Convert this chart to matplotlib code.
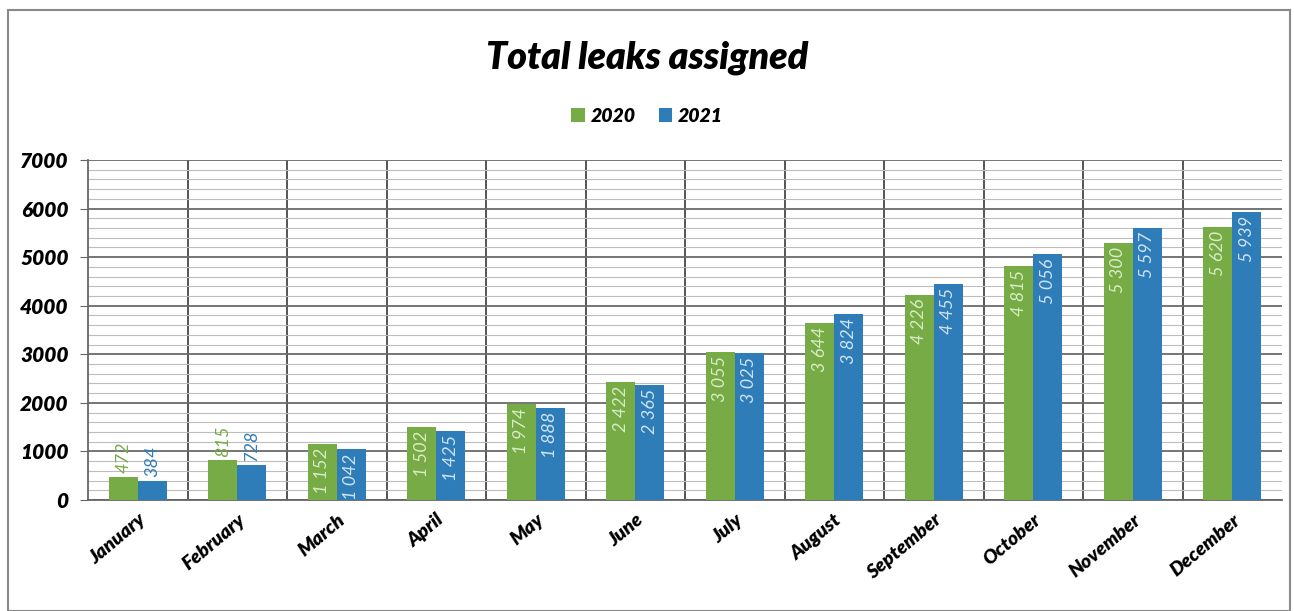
import matplotlib.pyplot as plt
import numpy as np
from matplotlib.patches import Rectangle
from matplotlib.ticker import MultipleLocator

months = ["January", "February", "March", "April", "May", "June", "July",
          "August", "September", "October", "November", "December"]
leaks_2020 = [472, 815, 1152, 1502, 1974, 2422, 3055, 3644, 4226, 4815, 5300, 5620]
leaks_2021 = [384, 728, 1042, 1425, 1888, 2365, 3025, 3824, 4455, 5056, 5597, 5939]
series_names = ["2020", "2021"]

GREEN = "#76ab45"
BLUE = "#2f7db8"
GREEN_TXT = "#d9ecc4"
BLUE_TXT = "#cfe3f3"

plt.rcParams['font.family'] = ['Lato', 'DejaVu Sans']

fig = plt.figure(figsize=(12.94, 6.11), dpi=100)
ax = fig.add_axes([88 / 1294, 111 / 611, 1194 / 1294, 340 / 611])

x = np.arange(len(months))
w = 0.29
bars20 = ax.bar(x - w / 2, leaks_2020, w, color=GREEN, label=series_names[0], zorder=3)
bars21 = ax.bar(x + w / 2, leaks_2021, w, color=BLUE, label=series_names[1], zorder=3)


def fmt(v):
    return f"{v:,}".replace(",", " ")


def put_labels(bars, vals, inside_color, outside_color):
    for b, v in zip(bars, vals):
        cx = b.get_x() + b.get_width() / 2
        if v < 1000:
            ax.text(cx, v + 80, fmt(v), rotation=90, ha="center", va="bottom",
                    fontsize=13, fontstyle="italic", color=outside_color, zorder=4)
        else:
            ax.text(cx, v - 80, fmt(v), rotation=90, ha="center", va="top",
                    fontsize=13, fontstyle="italic", color=inside_color, zorder=4)


put_labels(bars20, leaks_2020, GREEN_TXT, GREEN)
put_labels(bars21, leaks_2021, BLUE_TXT, BLUE)

ax.set_xlim(-0.5, len(months) - 0.5)
ax.set_ylim(0, 7000)
ax.yaxis.set_major_locator(MultipleLocator(1000))
ax.yaxis.set_minor_locator(MultipleLocator(200))
ax.grid(axis="y", which="major", color="#6a6a6a", linewidth=1.3, zorder=0)
ax.grid(axis="y", which="minor", color="#bdbdbd", linewidth=0.8, zorder=0)

# category separators
for b in np.arange(0.5, len(months) - 0.5, 1):
    ax.axvline(b, color="#555555", linewidth=1.4, zorder=1)

for s in ["top", "right"]:
    ax.spines[s].set_visible(False)
ax.spines["left"].set_color("#666666")
ax.spines["bottom"].set_color("#666666")
ax.spines["left"].set_linewidth(1.3)
ax.spines["bottom"].set_linewidth(1.3)

ax.set_xticks(x)
ax.set_xticklabels(months, rotation=40, ha="right", rotation_mode="anchor",
                   fontsize=14, fontweight="heavy", fontstyle="italic")
ax.tick_params(axis="x", length=0, pad=8)
ax.tick_params(axis="y", which="major", length=6, color="#666666", labelsize=15, pad=8)
ax.tick_params(axis="y", which="minor", length=0)
for lab in ax.get_yticklabels():
    lab.set_fontweight("heavy")
    lab.set_fontstyle("italic")

fig.text(0.5, 1 - 58 / 611, "Total leaks assigned", ha="center", va="center",
         fontsize=27, fontweight="heavy", fontstyle="italic")
fig.legend(loc="center", bbox_to_anchor=(0.5, 1 - 116 / 611), ncol=2, frameon=False,
           handlelength=0.7, handleheight=0.7, handletextpad=0.3, columnspacing=1.2,
           prop={"size": 14, "weight": "heavy", "style": "italic"})

# outer chart frame
fig.add_artist(Rectangle((8 / 1294, 0.0), 1282 / 1294, 1 - 10 / 611,
                         transform=fig.transFigure, fill=False,
                         edgecolor="#8a8a8a", linewidth=1.5))

fig.savefig("out.png", dpi=100)
